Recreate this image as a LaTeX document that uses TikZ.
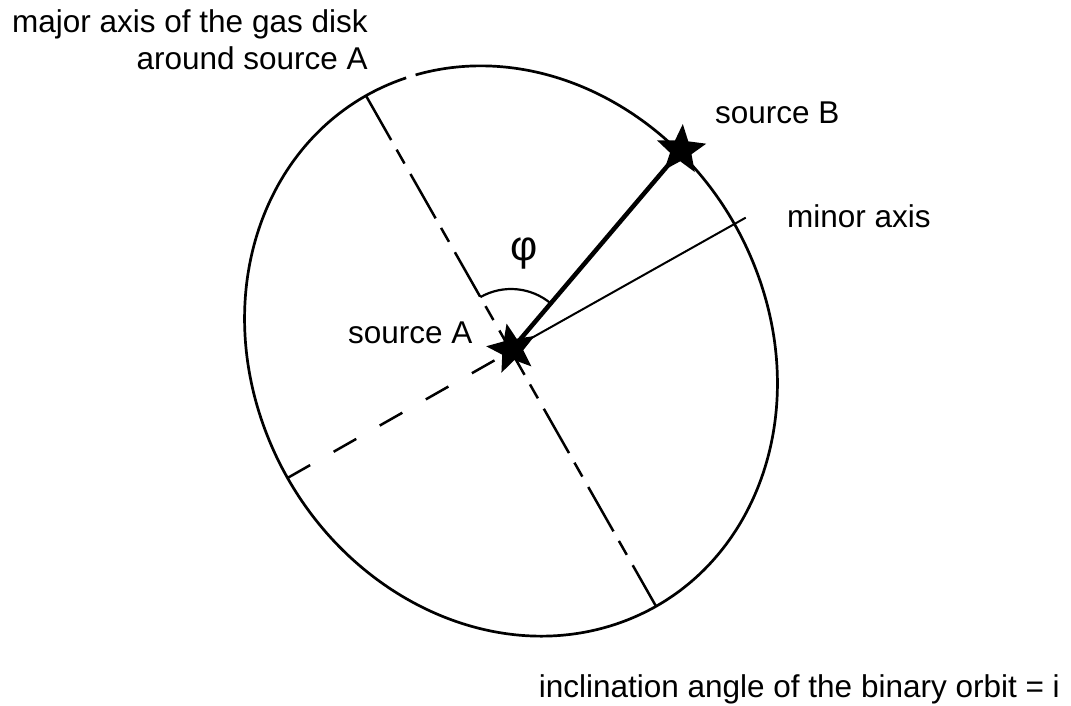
\documentclass[tikz,border=0pt]{standalone}
\usepackage{fontspec}
\setmainfont{Liberation Sans}
\usetikzlibrary{shapes.geometric}
\begin{document}
\begin{tikzpicture}[x=1pt,y=-1pt,
  lbl/.style={font=\fontsize{31.5}{36}\selectfont, inner sep=0pt},
  greek/.style={font=\fontsize{42}{48}\selectfont, inner sep=0pt},
  starnode/.style={star, star points=5, star point ratio=2.3, fill=black, draw=none, minimum size=52pt, inner sep=0pt},
  rim/.style={line width=2.7pt},
  majordash/.style={line width=2.5pt, dash pattern=on 51pt off 11pt on 16pt off 12pt},
  minordash/.style={line width=2.5pt, dash pattern=on 26pt off 27pt},
  thinaxis/.style={line width=2pt},
  sightline/.style={line width=4.5pt},
  anglemark/.style={line width=2.2pt}]
\useasboundingbox (0,0) rectangle (1071,706);
\coordinate (C) at (511,351);
\begin{scope}[shift={(C)}, rotate=119.6]
  \draw[rim] (-9.8:293.6pt and 257pt) arc[start angle=-9.8, end angle=348, x radius=293.6pt, y radius=257pt];
  \coordinate (majT) at (0:293.6pt);
  \coordinate (majB) at (180:293.6pt);
  \coordinate (minL) at (90:257pt);
  \coordinate (minR) at (-90:270pt);
\end{scope}
\coordinate (Apos) at (512,349);
\coordinate (Bpos) at (681,150);
% axes
\draw[majordash] (majT) -- (majB);
\draw[minordash] (minL) -- (C);
\draw[thinaxis] (Apos) -- (minR);
\draw[sightline] (Apos) -- (Bpos);
% angle marker
\draw[anglemark, shift={(C)}] (119.6:62pt) arc[start angle=119.6, end angle=49.8, radius=62pt];
% stars
\node[starnode, shape border rotate=12] (A) at (Apos) {};
\node[starnode, shape border rotate=-4] (B) at (Bpos) {};
% labels
\node[lbl, anchor=base west] (tmaj) at (12,33) {major axis of the gas disk};
\node[lbl, anchor=base east] (taround) at (368,70) {around source A};
\node[lbl, anchor=base west] (tB) at (715,124) {source B};
\node[lbl, anchor=base west] (tminor) at (787,227) {minor axis};
\node[lbl, anchor=base west] (tA) at (348,343) {source A};
\node[greek] (phi) at (524,254) {φ};
\node[lbl, anchor=base east] (tinc) at (1060,697) {inclination angle of the binary orbit = i};
\end{tikzpicture}
\end{document}
